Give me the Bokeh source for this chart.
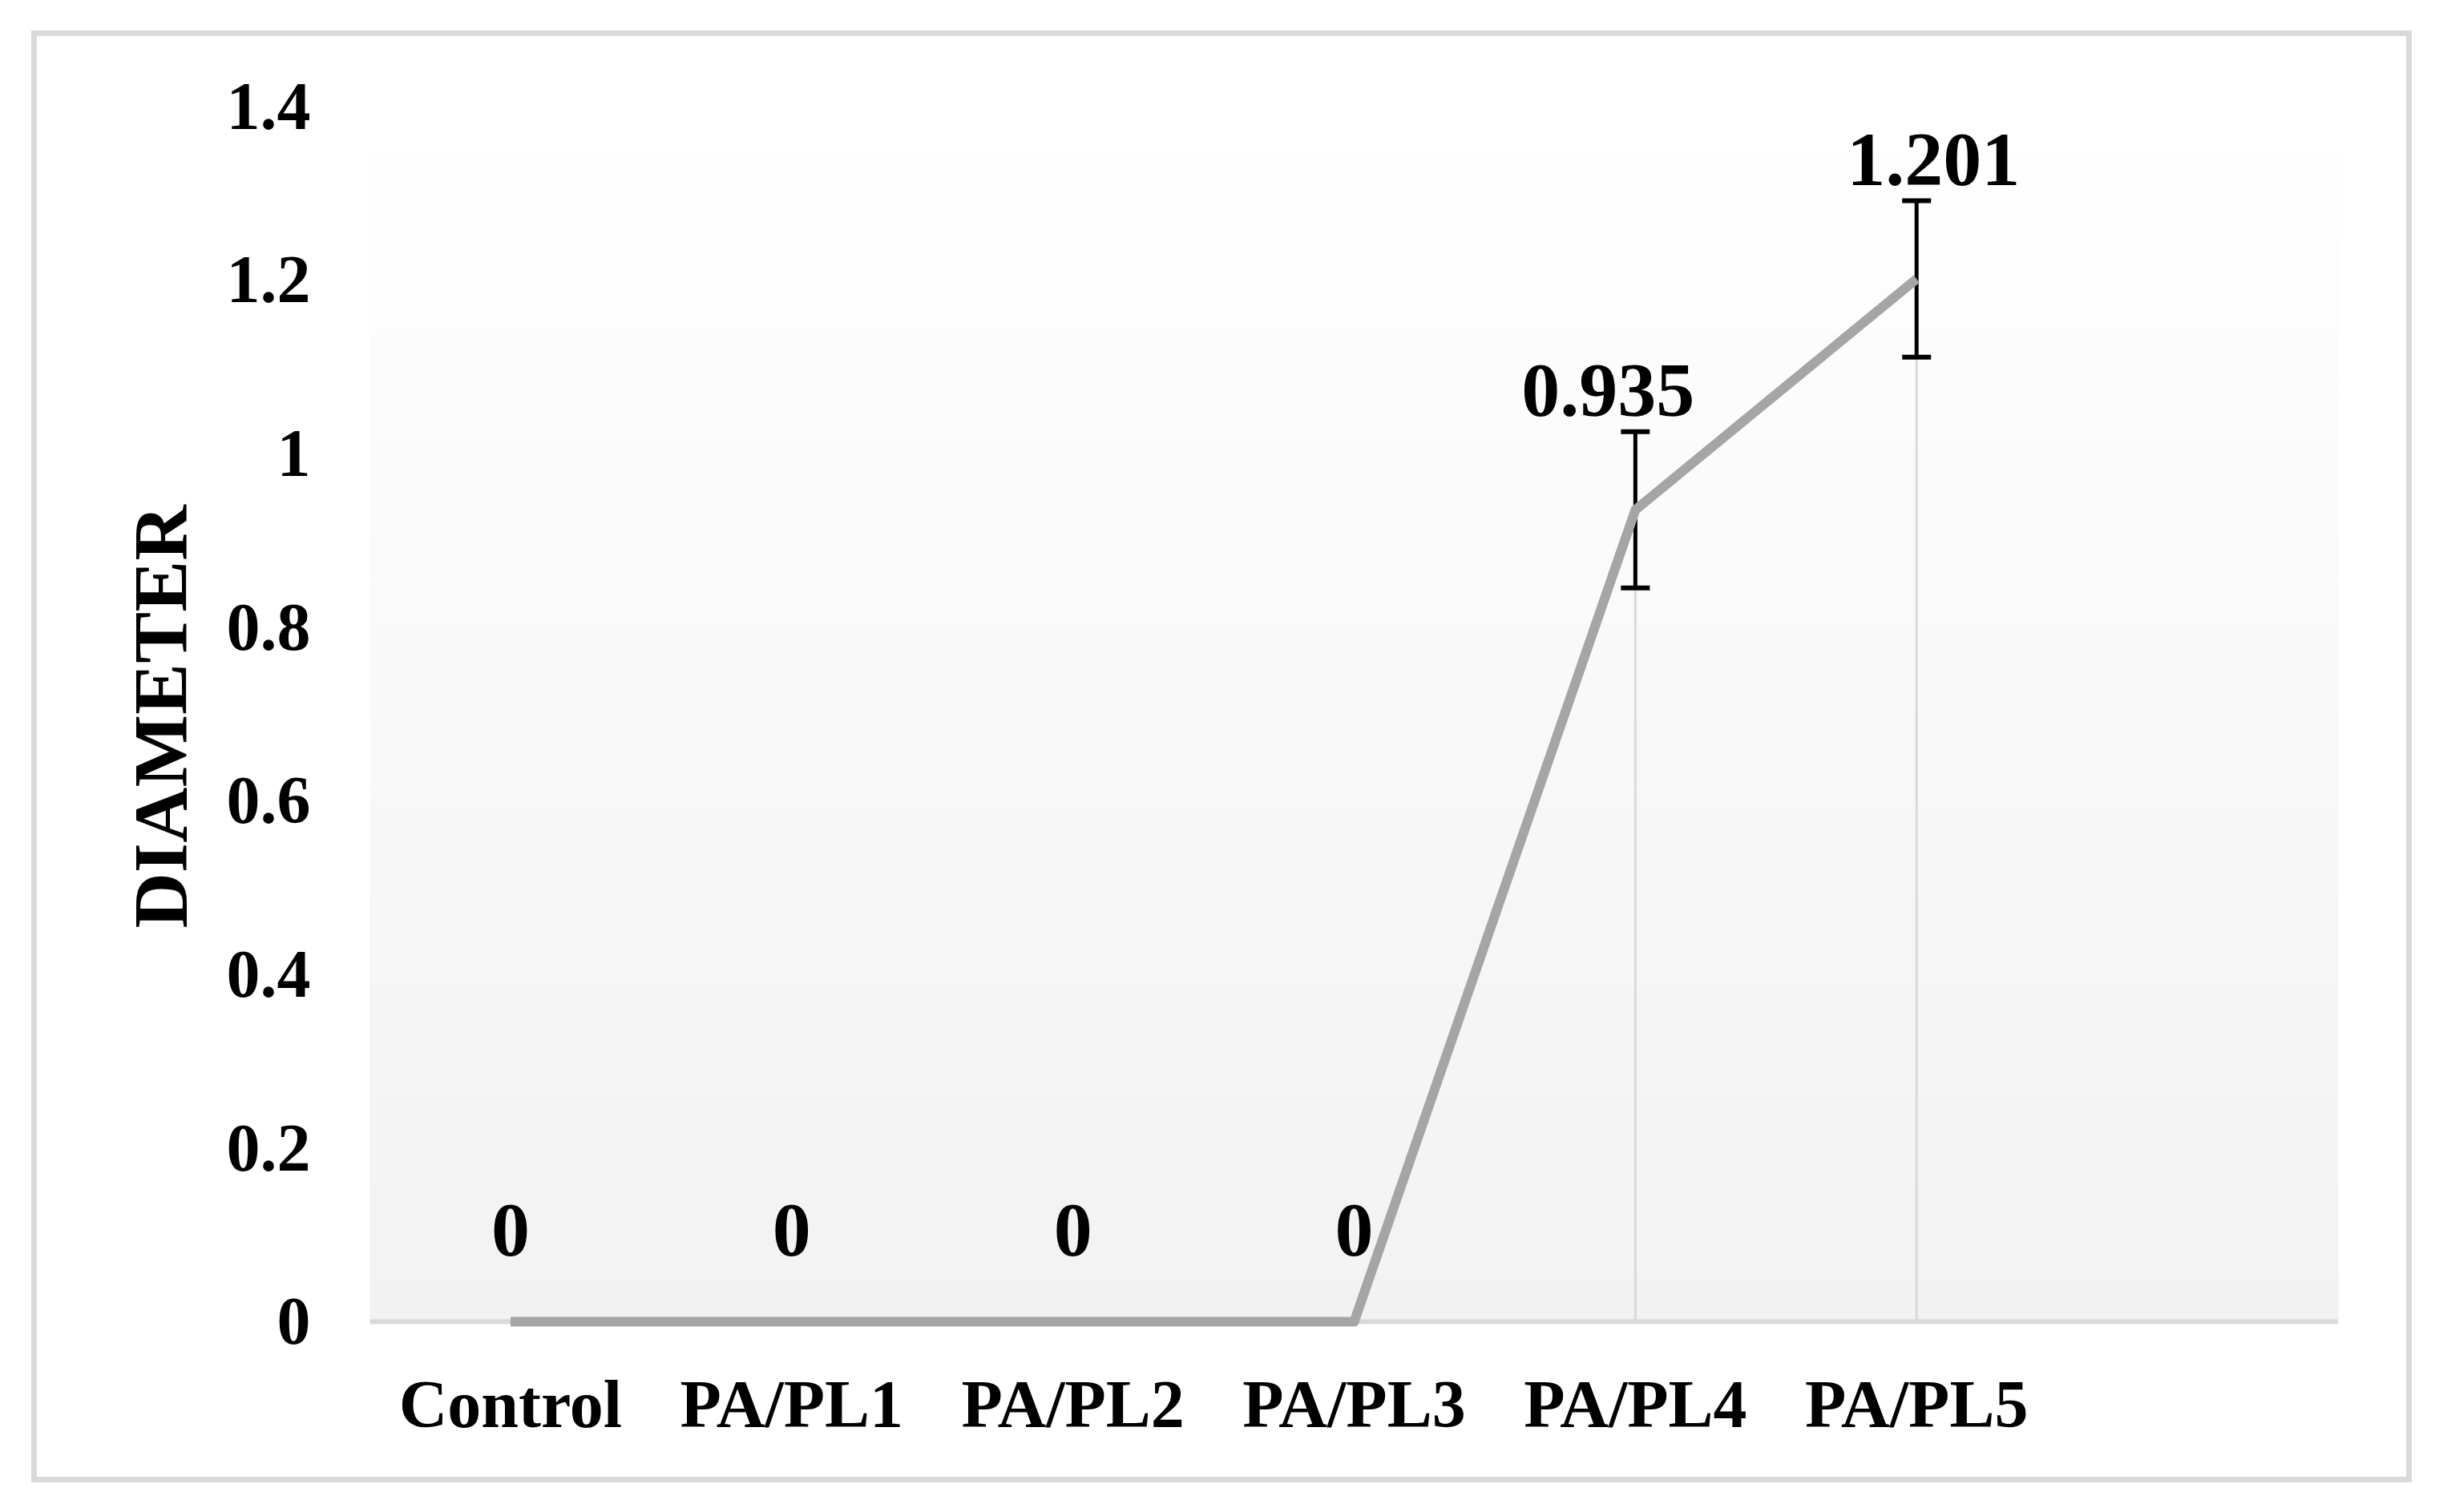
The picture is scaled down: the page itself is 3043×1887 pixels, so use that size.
import numpy as np
from bokeh.plotting import figure
from bokeh.models import ColumnDataSource, Range1d, FixedTicker, Whisker, TeeHead, Span
from bokeh.core.properties import value
from bokeh.embed import file_html
from bokeh.resources import INLINE

# ---------------- data ----------------
categories = ["Control", "PA/PL1", "PA/PL2", "PA/PL3", "PA/PL4", "PA/PL5"]
diameter = [0, 0, 0, 0, 0.935, 1.201]
error = [0, 0, 0, 0, 0.09, 0.09]
y_ticks = [0, 0.2, 0.4, 0.6, 0.8, 1.0, 1.2, 1.4]
y_tick_labels = ["0", "0.2", "0.4", "0.6", "0.8", "1", "1.2", "1.4"]
y_title = "DIAMETER"

# label nudges in pixels (style)
label_dx = [0, 0, 0, 0, -34, 21]
label_dy = [-114, -114, -114, -114, -51, -51]

FONT = value("Liberation Serif")

xs = [i + 0.5 for i in range(len(categories))]
n_slots = len(categories) + 1
y_max = y_ticks[-1]
y_pad = 0.0065   # small room below zero so the line at 0 is not clipped

p = figure(width=2956, height=1798,
           x_range=Range1d(0, n_slots), y_range=Range1d(-y_pad, y_max),
           output_backend="svg", toolbar_location=None,
           min_border_left=415, min_border_right=85,
           min_border_top=87, min_border_bottom=187)
p.margin = (45, 0, 0, 46)
p.styles = {"outline": "7px solid #d9d9d9", "outline-offset": "0px"}
p.outline_line_color = None
p.background_fill_color = "white"
p.border_fill_color = "white"
p.xgrid.visible = False
p.ygrid.visible = False

# gradient background of the plot area (white at top -> #f2f2f2 at bottom)
nb = 80
edges = np.linspace(0, y_max, nb + 1)
cols = []
for i in range(nb):
    t = (i + 0.5) / nb
    c = int(round(242 + (255 - 242) * t))
    cols.append("#%02x%02x%02x" % (c, c, c))
p.quad(left=0, right=n_slots, bottom=edges[:-1], top=edges[1:],
       fill_color=cols, line_color=cols, line_width=1, level="image")

src = ColumnDataSource(dict(
    x=xs, y=diameter, err=error,
    upper=[v + e for v, e in zip(diameter, error)],
    lower=[v - e for v, e in zip(diameter, error)],
    label=[f"{v:g}" for v in diameter],
    dx=label_dx, dy=label_dy,
))

# drop lines
p.segment(x0="x", y0=0, x1="x", y1="y", source=src,
          line_color="#d9d9d9", line_width=3, level="image")

# category axis line at zero
p.add_layout(Span(location=0, dimension="width", line_color="#d9d9d9",
                  line_width=6, level="underlay"))

# error bars (only where error > 0)
idx = [i for i, e in enumerate(error) if e > 0]
src_e = ColumnDataSource(dict(
    x=[xs[i] for i in idx],
    upper=[diameter[i] + error[i] for i in idx],
    lower=[diameter[i] - error[i] for i in idx],
))
w = Whisker(source=src_e, base="x", upper="upper", lower="lower",
            line_color="black", line_width=5,
            upper_head=TeeHead(size=36, line_color="black", line_width=6),
            lower_head=TeeHead(size=36, line_color="black", line_width=6),
            level="underlay")
p.add_layout(w)

# data line
p.line(x="x", y="y", source=src, line_color="#a5a5a5", line_width=12, line_join="round")

# data labels
p.text(x="x", y="upper", text="label", source=src,
       x_offset="dx", y_offset="dy",
       text_font=FONT, text_font_style="bold", text_font_size="96px",
       text_align="center", text_baseline="alphabetic", text_color="black")

# axes
p.xaxis.ticker = FixedTicker(ticks=xs)
p.xaxis.major_label_overrides = {x: c for x, c in zip(xs, categories)}
p.yaxis.ticker = FixedTicker(ticks=y_ticks)
p.yaxis.major_label_overrides = {t: l for t, l in zip(y_ticks, y_tick_labels)}

for ax in (p.xaxis[0], p.yaxis[0]):
    ax.major_label_text_font = "Liberation Serif"
    ax.major_label_text_font_style = "bold"
    ax.major_label_text_font_size = "84px"
    ax.major_label_text_color = "black"
    ax.major_tick_line_color = None
    ax.minor_tick_line_color = None
    ax.major_tick_out = 0
    ax.major_tick_in = 0

p.yaxis.axis_line_color = None
p.yaxis.major_label_standoff = 74
p.yaxis.axis_label = y_title
p.yaxis.axis_label_text_font = "Liberation Serif"
p.yaxis.axis_label_text_font_style = "bold"
p.yaxis.axis_label_text_font_size = "96px"
p.yaxis.axis_label_text_color = "black"
p.yaxis.axis_label_standoff = 26

p.xaxis.axis_line_color = None
p.xaxis.major_label_standoff = 49

open("out.html", "w").write(file_html(p, INLINE))
